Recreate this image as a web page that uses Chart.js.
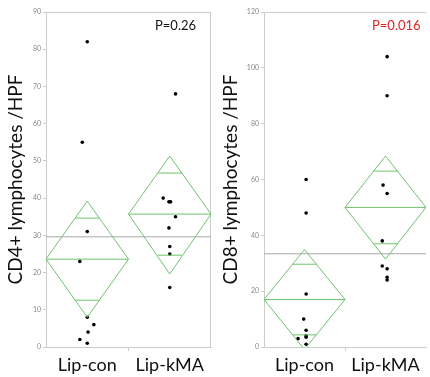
<!DOCTYPE html>
<html><head><meta charset="utf-8">
<script src="https://cdn.jsdelivr.net/npm/chart.js@4.4.1/dist/chart.umd.min.js"></script>
<style>
html,body{margin:0;padding:0;background:#fff;}
#wrap{position:relative;width:430px;height:377px;overflow:hidden;}
.pane{position:absolute;top:0;width:215px;height:377px;}
.pval{position:absolute;font-family:Lato,sans-serif;font-size:13px;line-height:13px;white-space:nowrap;}
</style></head>
<body>
<div id="wrap">
<div class="pane" style="left:0"><canvas id="c1" width="215" height="377"></canvas></div>
<div class="pane" style="left:215px"><canvas id="c2" width="215" height="377"></canvas></div>
<div class="pval" id="p1" style="left:155px;top:19px;color:#111;"></div>
<div class="pval" id="p2" style="left:372px;top:19px;color:#e02424;"></div>
</div>
<script>
// ---- data ----
const groups = ['Lip-con', 'Lip-kMA'];

const cd4Con = [82, 55, 31, 23, 8, 6, 4, 2, 1];
const cd4ConJitter = [0, -0.06, 0, -0.09, 0, 0.08, 0.01, -0.09, 0];
const cd4Kma = [68, 40, 39, 39, 35, 32, 27, 25, 16];
const cd4KmaJitter = [0.07, -0.08, -0.01, 0.01, 0.07, -0.01, 0, 0, 0];
const cd4Means = [23.6, 35.7];
const cd4CiLow = [8.0, 19.6];
const cd4CiHigh = [39.2, 51.3];
const cd4GrandMean = 29.6;
const cd4P = 'P=0.26';

const cd8Con = [60, 48, 19, 10, 6, 4, 3.5, 3, 1];
const cd8ConJitter = [0.02, 0.02, 0.02, -0.01, 0.02, 0.02, 0.02, -0.08, 0.02];
const cd8Kma = [104, 90, 58, 55, 38, 29, 28, 25, 24];
const cd8KmaJitter = [0.02, 0.02, -0.03, 0.02, -0.04, -0.04, 0.02, 0.02, 0.02];
const cd8Means = [17.0, 50.0];
const cd8CiLow = [-0.9, 31.5];
const cd8CiHigh = [34.9, 68.4];
const cd8GrandMean = 33.4;
const cd8P = 'P=0.016';

const cd4Axis = {max: 90, step: 10, title: 'CD4+ lymphocytes /HPF'};
const cd8Axis = {max: 120, step: 20, title: 'CD8+ lymphocytes /HPF'};

// ---- styles ----
const GREEN = 'rgb(110,195,110)';
const GRAY = '#a8a8a8';
const BOX = '#cccccc';
const FONT = 'Lato, sans-serif';

function pts(vals, jit, gi) {
  return vals.map((v, i) => ({x: gi + 0.5 + jit[i], y: v}));
}
function line(data, color) {
  return {type: 'scatter', data, showLine: true, borderColor: color, borderWidth: 1,
          pointRadius: 0, pointHoverRadius: 0, fill: false, tension: 0};
}
function diamondSets(means, lo, hi) {
  const sets = [];
  const f = 1 - 1 / Math.SQRT2;
  means.forEach((m, i) => {
    sets.push(line([{x: i, y: m}, {x: i + 0.5, y: hi[i]}, {x: i + 1, y: m}, {x: i + 0.5, y: lo[i]}, {x: i, y: m}], GREEN));
    sets.push(line([{x: i, y: m}, {x: i + 1, y: m}], GREEN));
    const d = (hi[i] - m) / Math.SQRT2;
    sets.push(line([{x: i + 0.5 - f / 2, y: m + d}, {x: i + 0.5 + f / 2, y: m + d}], GREEN));
    sets.push(line([{x: i + 0.5 - f / 2, y: m - d}, {x: i + 0.5 + f / 2, y: m - d}], GREEN));
  });
  return sets;
}

function makeChart(id, axis, con, conJ, kma, kmaJ, means, lo, hi, grand, yWidth, drawRight) {
  const boxPlugin = {
    id: 'box',
    beforeDatasetsDraw(chart) {
      const a = chart.chartArea, ctx = chart.ctx;
      ctx.save();
      ctx.strokeStyle = BOX; ctx.lineWidth = 1;
      ctx.beginPath();
      ctx.moveTo(a.left, Math.round(a.top) + 0.5);
      ctx.lineTo(a.right, Math.round(a.top) + 0.5);
      if (drawRight) {
        ctx.moveTo(Math.round(a.right) - 0.5, a.top);
        ctx.lineTo(Math.round(a.right) - 0.5, a.bottom);
      }
      ctx.stroke();
      ctx.restore();
    }
  };
  const datasets = [
    line([{x: 0, y: grand}, {x: 2, y: grand}], GRAY),
    ...diamondSets(means, lo, hi),
    {type: 'scatter', data: pts(con, conJ, 0), pointRadius: 1.8, pointBackgroundColor: '#000', pointBorderWidth: 0, showLine: false},
    {type: 'scatter', data: pts(kma, kmaJ, 1), pointRadius: 1.8, pointBackgroundColor: '#000', pointBorderWidth: 0, showLine: false}
  ];
  return new Chart(document.getElementById(id), {
    type: 'scatter',
    data: {datasets},
    plugins: [boxPlugin],
    options: {
      responsive: false,
      animation: false,
      events: [],
      layout: {padding: {top: 12, right: drawRight ? 2 : 0, left: 0, bottom: 0}},
      plugins: {legend: {display: false}, tooltip: {enabled: false}},
      scales: {
        x: {
          type: 'linear', min: 0, max: 2,
          afterBuildTicks: s => { s.ticks = [{value: 0.5}, {value: 1}, {value: 1.5}]; },
          afterFit: s => { s.height = 30; },
          border: {color: BOX},
          grid: {drawOnChartArea: false, tickLength: 4,
                 color: c => (c.tick && c.tick.value === 1) ? BOX : 'rgba(0,0,0,0)'},
          ticks: {
            callback: v => v === 0.5 ? groups[0] : (v === 1.5 ? groups[1] : ''),
            font: {family: FONT, size: 18}, color: '#111', padding: 3, maxRotation: 0, autoSkip: false
          }
        },
        y: {
          type: 'linear', min: 0, max: axis.max,
          afterFit: s => { s.width = yWidth; },
          border: {color: BOX},
          grid: {drawOnChartArea: false, tickLength: 3, color: BOX},
          ticks: {stepSize: axis.step, font: {family: FONT, size: 7}, color: '#888', padding: 2},
          title: {display: true, text: axis.title, font: {family: FONT, size: 19}, color: '#111', padding: {top: 4, bottom: 0}}
        }
      }
    }
  });
}

makeChart('c1', cd4Axis, cd4Con, cd4ConJitter, cd4Kma, cd4KmaJitter, cd4Means, cd4CiLow, cd4CiHigh, cd4GrandMean, 46, true);
makeChart('c2', cd8Axis, cd8Con, cd8ConJitter, cd8Kma, cd8KmaJitter, cd8Means, cd8CiLow, cd8CiHigh, cd8GrandMean, 49, false);
document.getElementById('p1').textContent = cd4P;
document.getElementById('p2').textContent = cd8P;
</script>
</body></html>
